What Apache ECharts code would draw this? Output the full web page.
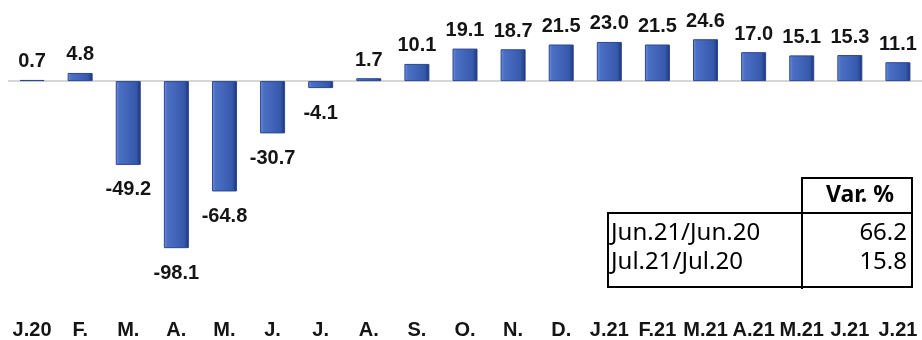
<!DOCTYPE html>
<html>
<head>
<meta charset="utf-8">
<script src="https://cdn.jsdelivr.net/npm/echarts@6/dist/echarts.min.js"></script>
<style>
  html, body { margin: 0; padding: 0; background: #ffffff; }
  #chart { width: 922px; height: 340px; }
</style>
</head>
<body>
<div id="chart"></div>
<script>
// Monthly year-on-year variation (%), Jan 2020 – Jul 2021
const months = ['J.20', 'F.', 'M.', 'A.', 'M.', 'J.', 'J.', 'A.', 'S.', 'O.', 'N.', 'D.',
                'J.21', 'F.21', 'M.21', 'A.21', 'M.21', 'J.21', 'J.21'];
const variation = [0.7, 4.8, -49.2, -98.1, -64.8, -30.7, -4.1, 1.7, 10.1, 19.1, 18.7, 21.5,
                   23.0, 21.5, 24.6, 17.0, 15.1, 15.3, 11.1];

// Summary table
const tableHeader = 'Var. %';
const tablePeriods = ['Jun.21/Jun.20', 'Jul.21/Jul.20'];
const tableValues = [66.2, 15.8];

const chart = echarts.init(document.getElementById('chart'), null, { renderer: 'canvas' });

const barFill = new echarts.graphic.LinearGradient(0, 0, 1, 0, [
  { offset: 0, color: '#7594dc' },
  { offset: 0.14, color: '#4a6fc4' },
  { offset: 0.5, color: '#3f64b8' },
  { offset: 0.82, color: '#3558aa' },
  { offset: 1, color: '#1c3370' }
]);

const labelFont = {
  fontFamily: '"Liberation Sans", Arial, sans-serif',
  fontWeight: 'bold',
  fontSize: 20,
  color: '#151515'
};

const barData = variation.map(v => ({
  value: v,
  label: {
    show: true,
    position: v >= 0 ? 'top' : 'bottom',
    distance: v >= 0 ? 8 : 15,
    formatter: p => p.value.toFixed(1),
    ...labelFont
  }
}));

// Table geometry (pixels)
const tX0 = 608, tX1 = 802, tX2 = 912;
const tY0 = 178, tY1 = 213, tY2 = 287;
const rowCenters = [233, 262];
const lineStyle = { stroke: '#000', lineWidth: 2 };
const tableFont = '24px "Noto Sans", "Liberation Sans", sans-serif';

const tableGraphics = [
  { type: 'rect', shape: { x: tX1, y: tY0, width: tX2 - tX1, height: tY1 - tY0 }, style: { fill: 'none', ...lineStyle } },
  { type: 'rect', shape: { x: tX0, y: tY1, width: tX2 - tX0, height: tY2 - tY1 }, style: { fill: 'none', ...lineStyle } },
  { type: 'line', shape: { x1: tX1, y1: tY0, x2: tX1, y2: tY2 + 2 }, style: lineStyle },
  {
    type: 'text', x: (tX1 + tX2) / 2 + 3, y: (tY0 + tY1) / 2,
    style: { text: tableHeader, font: 'bold 23px "Noto Sans", "Liberation Sans", sans-serif', fill: '#000', align: 'center', verticalAlign: 'middle' }
  }
];
tablePeriods.forEach((p, i) => {
  tableGraphics.push({
    type: 'text', x: tX0 + 3, y: rowCenters[i],
    style: { text: p, font: tableFont, fill: '#000', align: 'left', verticalAlign: 'middle' }
  });
  tableGraphics.push({
    type: 'text', x: tX2 - 5, y: rowCenters[i],
    style: { text: tableValues[i].toFixed(1), font: tableFont, fill: '#000', align: 'right', verticalAlign: 'middle' }
  });
});

chart.setOption({
  animation: false,
  backgroundColor: '#ffffff',
  grid: { left: 8, right: -2, top: 13, bottom: 24, containLabel: false },
  xAxis: {
    type: 'category',
    data: months,
    axisLine: { show: false, onZero: false },
    axisTick: { show: false },
    axisLabel: { margin: 9, interval: 0, ...labelFont }
  },
  yAxis: {
    type: 'value',
    min: -135,
    max: 40,
    show: false,
    splitLine: { show: false }
  },
  series: [{
    type: 'bar',
    data: barData,
    barWidth: 25,
    itemStyle: {
      color: barFill,
      borderColor: '#2b4791',
      borderWidth: 1
    },
    markLine: {
      silent: true,
      symbol: 'none',
      label: { show: false },
      lineStyle: { color: '#d6d6d6', width: 2, type: 'solid' },
      data: [{ yAxis: 0 }],
      z: 1
    },
    z: 3
  }],
  graphic: tableGraphics
});
</script>
</body>
</html>
